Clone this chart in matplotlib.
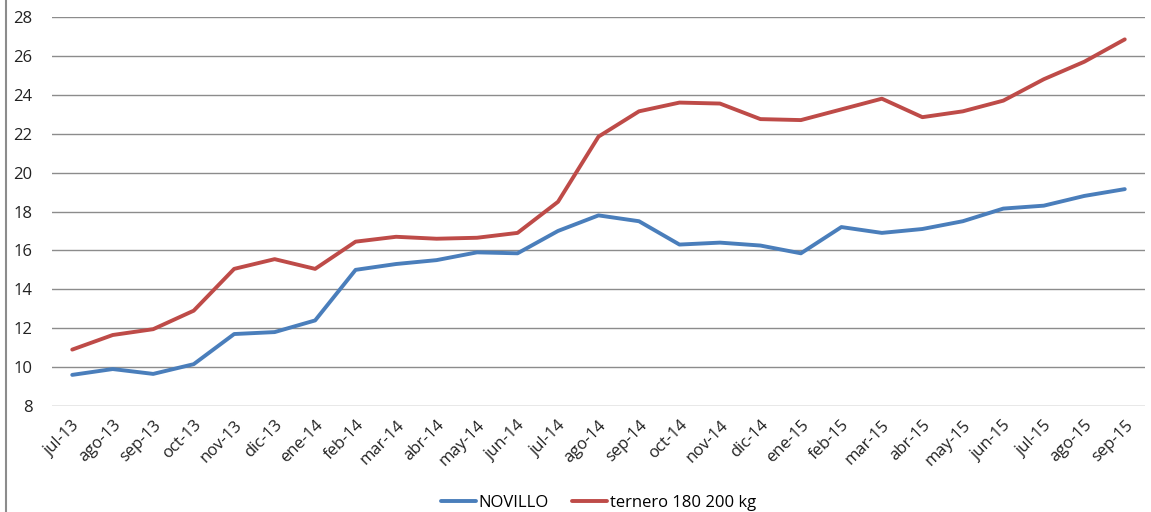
import matplotlib
matplotlib.use("Agg")
import matplotlib.pyplot as plt
from matplotlib.lines import Line2D

months = ["jul-13", "ago-13", "sep-13", "oct-13", "nov-13", "dic-13", "ene-14",
          "feb-14", "mar-14", "abr-14", "may-14", "jun-14", "jul-14", "ago-14",
          "sep-14", "oct-14", "nov-14", "dic-14", "ene-15", "feb-15", "mar-15",
          "abr-15", "may-15", "jun-15", "jul-15", "ago-15", "sep-15"]
novillo = [9.6, 9.9, 9.65, 10.15, 11.7, 11.8, 12.4, 15.0, 15.3, 15.5, 15.9, 15.85,
           17.0, 17.8, 17.5, 16.3, 16.4, 16.25, 15.85, 17.2, 16.9, 17.1, 17.5,
           18.15, 18.3, 18.8, 19.15]
ternero = [10.9, 11.65, 11.95, 12.9, 15.05, 15.55, 15.05, 16.45, 16.7, 16.6, 16.65,
           16.9, 18.5, 21.85, 23.15, 23.6, 23.55, 22.75, 22.7, 23.25, 23.8, 22.85,
           23.15, 23.7, 24.8, 25.7, 26.85]
yticks = list(range(8, 29, 2))

plt.rcParams['font.family'] = ['Open Sans', 'DejaVu Sans']

fig = plt.figure(figsize=(11.51, 5.12), dpi=100)
ax = fig.add_axes([52/1151, 1-406/512, (1145-52)/1151, (406-17)/512])

x = range(len(months))
ax.plot(x, novillo, color='#4a7ebb', lw=2.8, label='NOVILLO', solid_capstyle='round')
ax.plot(x, ternero, color='#be4b48', lw=2.8, label='ternero 180 200 kg', solid_capstyle='round')

ax.set_xlim(-0.5, len(months) - 0.5)
ax.set_ylim(8, 28)
ax.set_yticks(yticks)
ax.set_xticks(list(x))
ax.set_xticklabels(months, rotation=45, ha='right', rotation_mode='anchor')
ax.tick_params(axis='both', length=0, labelsize=12, colors='#222222')
ax.tick_params(axis='x', pad=8)
ax.tick_params(axis='y', pad=14)
ax.grid(axis='y', color='#8c8c8c', lw=1)
ax.set_axisbelow(True)
for s in ax.spines.values():
    s.set_visible(False)

ax.legend(loc='upper center', bbox_to_anchor=(0.5, -0.19), ncol=2, frameon=False,
          fontsize=12, handlelength=2.1, handletextpad=0.15, columnspacing=1.4)

fig.add_artist(Line2D([6/1151, 6/1151], [0, 1], color='#8c8c8c', lw=1.5))

fig.savefig('out.png', dpi=100)
